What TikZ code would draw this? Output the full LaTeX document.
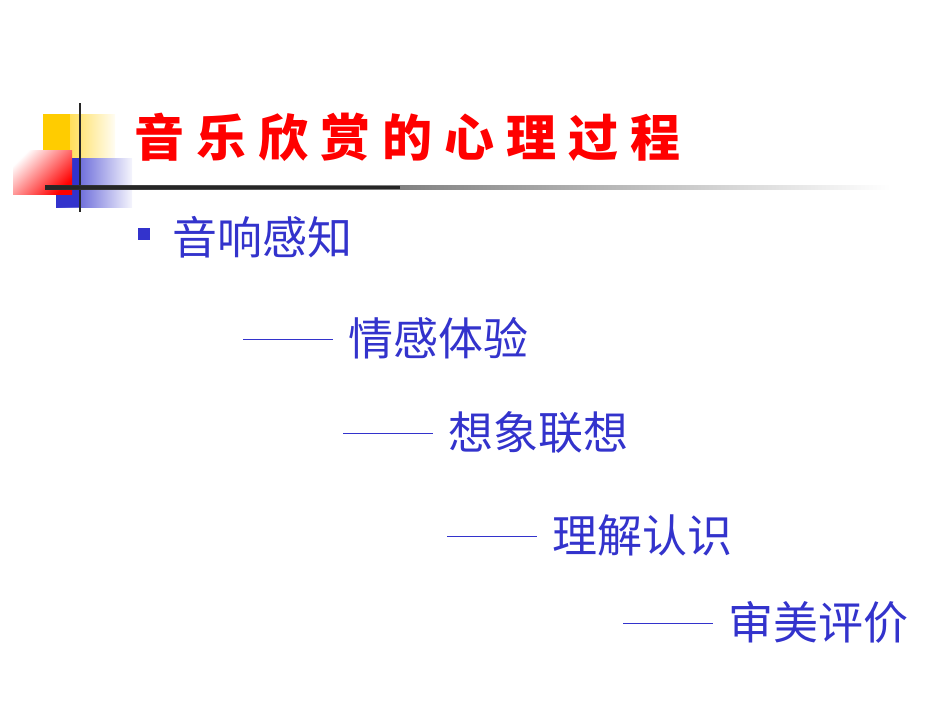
\documentclass[tikz,border=0pt]{standalone}
\usepackage{fontspec}
\newfontfamily\cjk{Noto Sans CJK SC}
\newfontfamily\cjkb{Noto Sans CJK SC Black}
\definecolor{tblue}{HTML}{3333CC}
\definecolor{sqblue}{HTML}{3333CC}
\definecolor{sqyel}{HTML}{FFCC00}
\newcommand{\mydash}{\rule[0.33em]{90pt}{1.3pt}\hspace{15pt}}
\tikzset{x=1pt,y=-1pt,
 body/.style={anchor=west,inner sep=0pt,text=tblue,font=\cjk\fontsize{45}{45}\selectfont}}
\begin{document}
\begin{tikzpicture}
\useasboundingbox (0,0) rectangle (950,713);
% decoration
\shade[left color=sqyel,right color=sqyel!5] (43,114) rectangle (115,158);
\fill[sqyel] (43,114) rectangle (70,158);
\shade[left color=sqblue,right color=sqblue!5] (56,158) rectangle (132,207);
\fill[sqblue] (56,158) rectangle (80,207);
\shade[left color=white,right color=red,shading angle=45] (13,150) rectangle (72,194);
\draw[line width=2.5pt,black!85] (80,103) -- (80,212);
\shade[left color=black!85,right color=white] (45,185.5) rectangle (890,189);
\fill[black!85] (45,185.5) rectangle (400,189);
% title
\node[anchor=west,inner sep=0pt,text=red,font=\cjkb\fontsize{50}{50}\selectfont] (title) at (134,137)
 {音\hspace{12pt}乐\hspace{12pt}欣\hspace{12pt}赏\hspace{12pt}的\hspace{12pt}心\hspace{12pt}理\hspace{12pt}过\hspace{12pt}程};
% bullet
\fill[tblue] (138,228) rectangle (150,240);
\node[body] (a) at (172,237) {音响感知};
\node[body] (b) at (243,338) {\mydash 情感体验};
\node[body] (c) at (343,432) {\mydash 想象联想};
\node[body] (d) at (447,535) {\mydash 理解认识};
\node[body] (e) at (623,622) {\mydash 审美评价};
\end{tikzpicture}
\end{document}
